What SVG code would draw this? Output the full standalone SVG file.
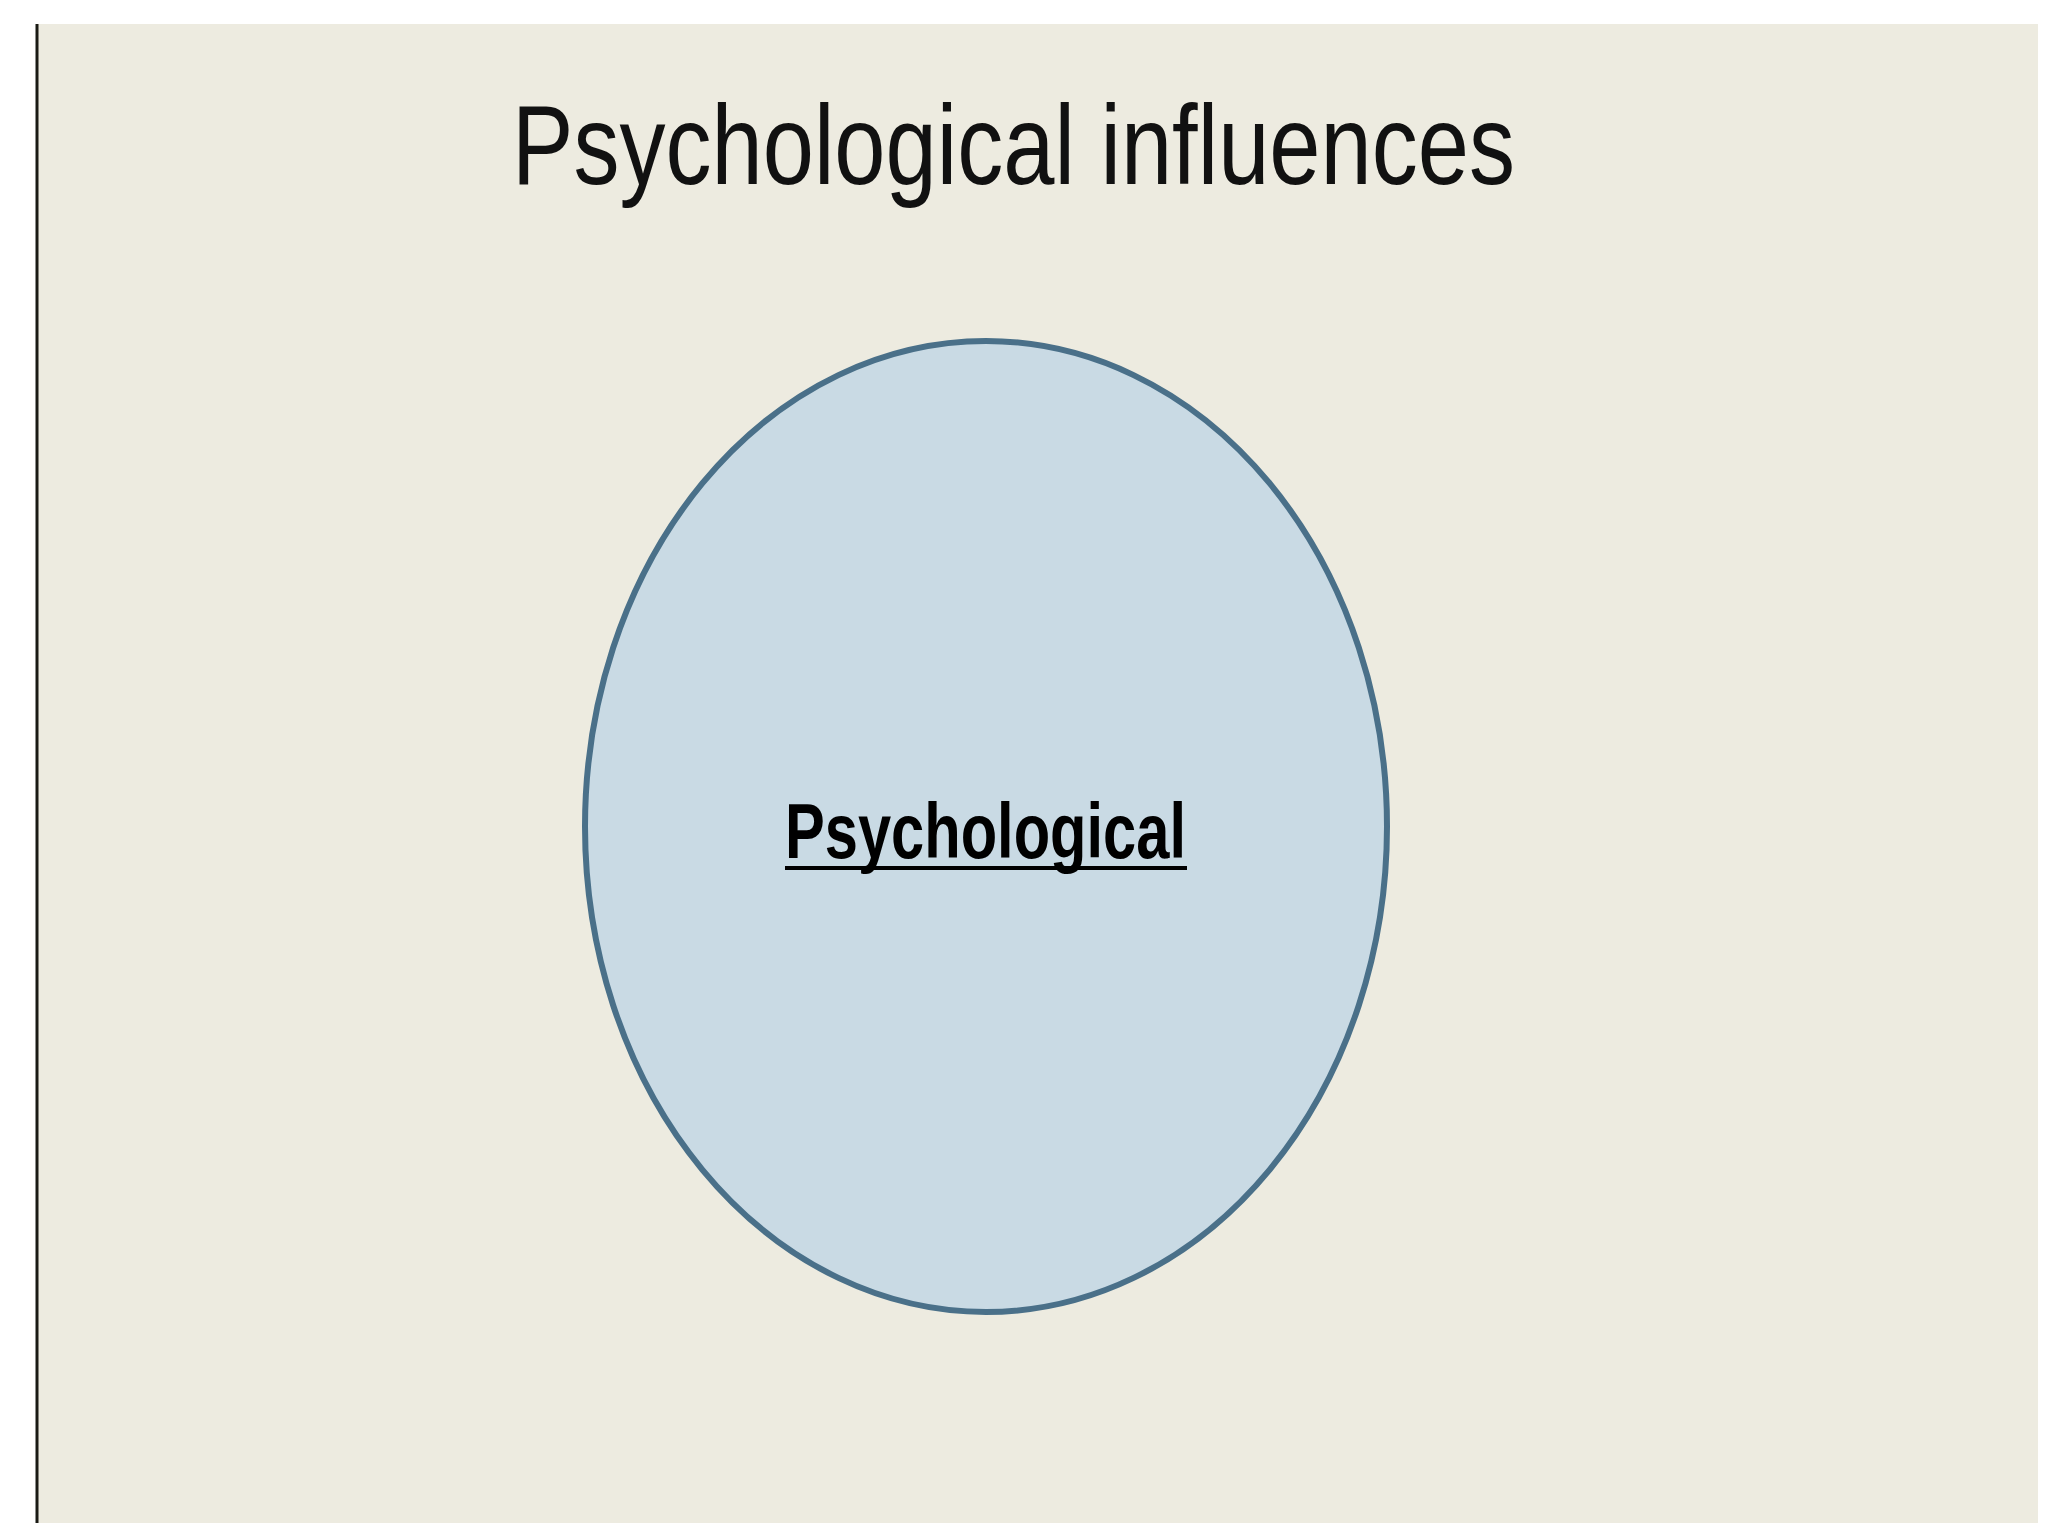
<svg xmlns="http://www.w3.org/2000/svg" width="2048" height="1536" viewBox="0 0 2048 1536">
<style>
.title{font-family:"Liberation Sans",Arial,sans-serif;font-size:113px;fill:#111111}
.label{font-family:"Liberation Sans",Arial,sans-serif;font-size:77px;font-weight:bold;fill:#000000}
</style>
<rect x="0" y="0" width="2048" height="1536" fill="#ffffff"/>
<rect x="37" y="24" width="2001" height="1499" fill="#EDEBE0"/>
<line x1="37" y1="24" x2="37" y2="1523" stroke="#1a1a14" stroke-width="3"/>
<text class="title" x="512" y="184" textLength="1003" lengthAdjust="spacingAndGlyphs">Psychological influences</text>
<g id="node-psychological">
<ellipse cx="986" cy="826.5" rx="401" ry="485.5" fill="#C9DAE4" stroke="#4A7089" stroke-width="6"/>
<text class="label" x="785" y="858" textLength="401" lengthAdjust="spacingAndGlyphs">Psychological</text>
<rect x="785" y="866" width="402" height="4" fill="#000000"/>
</g>
<g id="connectors"/>
</svg>
